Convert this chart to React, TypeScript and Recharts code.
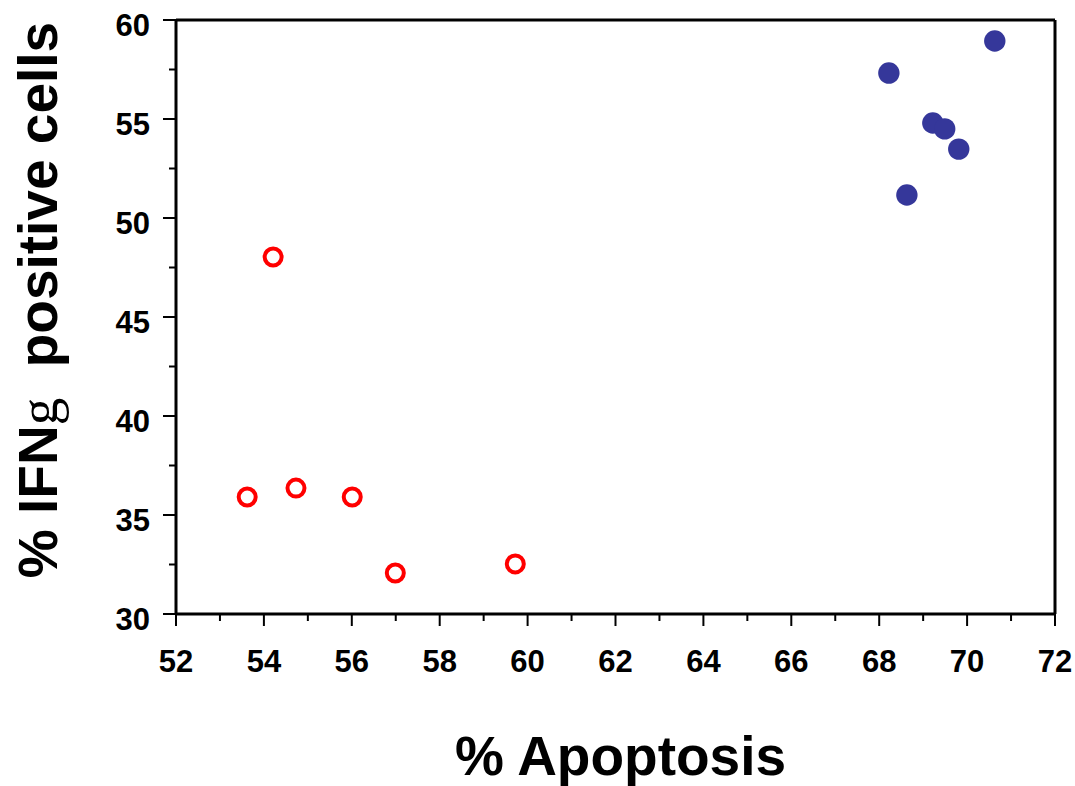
import { ScatterChart, Scatter, XAxis, YAxis, Label } from "recharts";

// IFNg-positive cells vs. apoptosis, two groups
const openApoptosis = [54.21, 53.62, 54.73, 56.01, 56.99, 59.72];
const openIfng = [48.03, 35.91, 36.36, 35.91, 32.07, 32.53];

const filledApoptosis = [68.22, 69.22, 69.49, 69.81, 68.63, 70.63];
const filledIfng = [57.32, 54.8, 54.5, 53.48, 51.16, 58.94];

const xTicks = [52, 53, 54, 55, 56, 57, 58, 59, 60, 61, 62, 63, 64, 65, 66, 67, 68, 69, 70, 71, 72];
const yTicks = [30, 32.5, 35, 37.5, 40, 42.5, 45, 47.5, 50, 52.5, 55, 57.5, 60];

const openData = openApoptosis.map((x, i) => ({ x, y: openIfng[i] }));
const filledData = filledApoptosis.map((x, i) => ({ x, y: filledIfng[i] }));

const FONT = "'Liberation Sans', Arial, Helvetica, sans-serif";
const tickText = { fontFamily: FONT, fontWeight: 700, fontSize: 31, fill: "#000" };

const isMajorX = (v: number) => v % 2 === 0;
const isMajorY = (v: number) => v % 5 === 0;

const BottomTick = ({ x, y, payload }: any) => {
  const major = isMajorX(payload.value);
  return (
    <g>
      <line x1={x} y1={y} x2={x} y2={y + (major ? 12 : 7)} stroke="#000" strokeWidth={2} />
      {major && (
        <text x={x} y={y + 58} textAnchor="middle" {...tickText}>
          {payload.value}
        </text>
      )}
    </g>
  );
};

const TopTick = ({ x, y, payload }: any) => {
  const major = isMajorX(payload.value);
  return <line x1={x} y1={y} x2={x} y2={y - (major ? 12 : 6)} stroke="#000" strokeWidth={2} />;
};

const LeftTick = ({ x, y, payload }: any) => {
  const major = isMajorY(payload.value);
  return (
    <g>
      <line x1={x} y1={y} x2={x - (major ? 13 : 7)} y2={y} stroke="#000" strokeWidth={2} />
      {major && (
        <text x={x - 26} y={y + 16} textAnchor="end" {...tickText}>
          {payload.value}
        </text>
      )}
    </g>
  );
};

const RightTick = ({ x, y, payload }: any) => {
  const major = isMajorY(payload.value);
  return <line x1={x} y1={y} x2={x + (major ? 12 : 6)} y2={y} stroke="#000" strokeWidth={2} />;
};

const OpenDot = ({ cx, cy }: any) => (
  <circle cx={cx} cy={cy} r={8.5} fill="#fff" stroke="#ff0000" strokeWidth={4} />
);

const FilledDot = ({ cx, cy }: any) => <circle cx={cx} cy={cy} r={10.7} fill="#35379a" />;

const axisLine = { stroke: "#000", strokeWidth: 3 };

export default function App() {
  return (
    <div style={{ position: "absolute", left: 0, top: 0, background: "#fff" }}>
      <ScatterChart width={1075} height={786} margin={{ top: 8, right: 8, left: 76, bottom: 112 }}>
        <XAxis
          dataKey="x"
          type="number"
          domain={[52, 72]}
          ticks={xTicks}
          interval={0}
          height={60}
          tickSize={0}
          tickMargin={0}
          tickLine={false}
          axisLine={axisLine}
          tick={BottomTick}
        >
          <Label
            content={({ viewBox }: any) => (
              <text
                x={viewBox.x + viewBox.width / 2 + 5}
                y={775}
                textAnchor="middle"
                fontFamily={FONT}
                fontWeight={700}
                fontSize={55}
                fill="#000"
              >
                % Apoptosis
              </text>
            )}
          />
        </XAxis>
        <XAxis
          xAxisId="top"
          orientation="top"
          type="number"
          domain={[52, 72]}
          ticks={xTicks}
          interval={0}
          height={12}
          tickSize={0}
          tickMargin={0}
          tickLine={false}
          axisLine={axisLine}
          tick={TopTick}
        />
        <YAxis
          dataKey="y"
          type="number"
          domain={[30, 60]}
          ticks={yTicks}
          interval={0}
          width={100}
          tickSize={0}
          tickMargin={0}
          tickLine={false}
          axisLine={axisLine}
          tick={LeftTick}
        >
          <Label
            content={() => (
              <text
                x={57}
                y={300}
                transform="rotate(-90, 57, 300)"
                textAnchor="middle"
                fontFamily={FONT}
                fontWeight={700}
                fontSize={55}
                fill="#000"
                style={{ whiteSpace: "pre" }}
              >
                % IFN
                <tspan fontFamily="'Liberation Serif', 'Times New Roman', serif" fontWeight={400}>
                  g
                </tspan>
                {"  positive cells"}
              </text>
            )}
          />
        </YAxis>
        <YAxis
          yAxisId="right"
          orientation="right"
          type="number"
          domain={[30, 60]}
          ticks={yTicks}
          interval={0}
          width={12}
          tickSize={0}
          tickMargin={0}
          tickLine={false}
          axisLine={axisLine}
          tick={RightTick}
        />
        <Scatter data={openData} shape={OpenDot} isAnimationActive={false} />
        <Scatter data={filledData} shape={FilledDot} isAnimationActive={false} />
      </ScatterChart>
    </div>
  );
}
